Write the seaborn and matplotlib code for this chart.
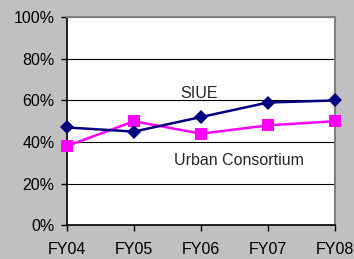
import pandas as pd
import seaborn as sns
import matplotlib.pyplot as plt
from matplotlib.ticker import PercentFormatter

years = ["FY04", "FY05", "FY06", "FY07", "FY08"]
siue = [47, 45, 52, 59, 60]
urban = [38, 50, 44, 48, 50]

df = pd.DataFrame({"year": years, "SIUE": siue, "Urban Consortium": urban})

sns.set_style("white")
plt.rcParams["font.family"] = ["Liberation Sans", "DejaVu Sans"]

fig = plt.figure(figsize=(3.54, 2.59), dpi=100)
fig.patch.set_facecolor("#c0c0c0")
ax = fig.add_axes([0.189, 0.131, 0.757, 0.802])
ax.set_facecolor("white")

sns.lineplot(data=df, x="year", y="Urban Consortium", ax=ax, color="#ff00ff",
             marker="s", markersize=8, markeredgewidth=0, linewidth=1.8,
             clip_on=False, zorder=3)
sns.lineplot(data=df, x="year", y="SIUE", ax=ax, color="#000080",
             marker="D", markersize=7, markeredgewidth=0, linewidth=1.8,
             clip_on=False, zorder=4)

ax.set_xlim(0, len(years) - 1)
ax.set_ylim(0, 100)
ax.set_yticks(range(0, 101, 20))
ax.yaxis.set_major_formatter(PercentFormatter(decimals=0))
ax.grid(axis="y", color="black", linewidth=0.8)
ax.set_axisbelow(True)
ax.set_xlabel("")
ax.set_ylabel("")

for side in ["top", "right"]:
    ax.spines[side].set_color("#808080")
    ax.spines[side].set_linewidth(1.5)
for side in ["left", "bottom"]:
    ax.spines[side].set_color("black")
    ax.spines[side].set_linewidth(1.2)

ax.tick_params(axis="both", direction="out", length=4, width=1, color="black",
               labelsize=11.5, labelcolor="black", bottom=True, left=True)
ax.tick_params(axis="x", pad=8)
ax.tick_params(axis="y", pad=5)

ax.text(1.97, 63.5, "SIUE", ha="center", va="center", fontsize=11.5)
ax.text(2.57, 31, "Urban Consortium", ha="center", va="center", fontsize=11.5)

fig.savefig("out.png", dpi=100, facecolor=fig.get_facecolor())
